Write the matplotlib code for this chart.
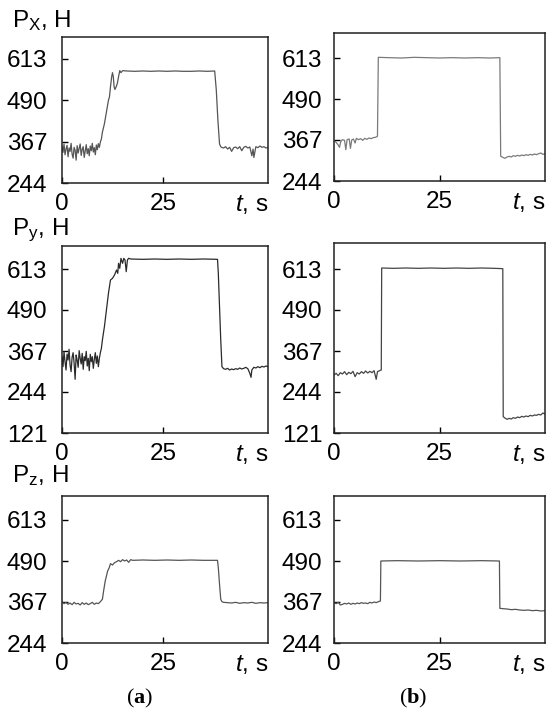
import matplotlib
matplotlib.use("Agg")
import matplotlib.pyplot as plt
import numpy as np

plt.rcParams['font.family'] = ['Liberation Sans', 'DejaVu Sans']
plt.rcParams['mathtext.fontset'] = 'custom'
plt.rcParams['mathtext.rm'] = 'Liberation Sans'
plt.rcParams['mathtext.it'] = 'Liberation Sans:italic'
plt.rcParams['mathtext.bf'] = 'Liberation Serif:bold'

# ---------------- data ----------------
# Px (a)
px_a_t = ([i * 0.25 for i in range(39)] +
          [9.75, 10.0, 10.5, 11.0, 11.5, 11.75, 12.0, 12.3, 12.5, 12.7, 12.9, 13.1, 13.4, 13.7, 14.0, 14.3, 14.6, 15.0,
           16, 18, 20, 22, 24, 26, 28, 30, 32, 34, 36, 37.8, 38.2, 38.6, 39.0, 39.3,
           39.5, 40, 40.5, 41, 41.5, 42, 42.5, 43, 43.5, 44, 44.5, 45, 45.5, 46, 46.5, 47, 47.3, 47.5, 48, 48.5, 49, 49.5, 50, 50.5, 51])
px_a_v = [352, 335, 360, 328, 345, 356, 322, 348, 338, 362, 330, 318, 350, 341, 312, 355, 333, 347, 360, 326,
          344, 352, 320, 339, 358, 331, 346, 325, 354, 340, 362, 336, 349, 328, 357, 343, 361, 350, 366,
          375, 395, 420, 455, 490, 500, 530, 560, 572, 560, 530, 522, 530, 540, 560, 578, 572, 578,
          577, 576, 577, 576, 577, 576, 577, 576, 576, 577, 576, 577, 520, 430, 360, 352,
          350, 348, 352, 345, 350, 338, 349, 351, 346, 352, 340, 350, 353, 348, 351, 325, 345, 320, 352, 349, 354, 350, 352, 348, 350]

# Px (b)
px_b_t = [0, 0.5, 1.0, 1.3, 1.6, 2.0, 2.5, 2.8, 3.1, 3.6, 3.9, 4.2, 4.6, 5.0, 5.3, 5.8, 6.3, 6.8, 7.3, 7.8, 8.3, 8.8, 9.3, 9.8, 10.3,
          10.5, 13, 16, 19, 22, 25, 28, 31, 34, 37, 39.3,
          39.5, 40, 40.5, 41, 41.5, 42, 42.5, 43, 43.5, 44, 44.5, 45, 45.5, 46, 46.5, 47, 47.5, 48, 48.5, 49, 49.5, 50]
px_b_v = [365, 360, 352, 345, 362, 368, 366, 338, 368, 370, 342, 367, 370, 358, 372, 368, 371, 366, 372, 369, 373, 371, 374, 375, 378,
          615, 614, 613, 615, 614, 613, 614, 613, 614, 613, 614,
          318, 315, 312, 316, 318, 316, 320, 318, 321, 319, 322, 320, 323, 321, 324, 322, 325, 323, 326, 328, 324, 326]

# Py (a)
py_a_t = ([i * 0.25 for i in range(39)] +
          [9.75, 10.0, 10.5, 11.0, 11.5, 12.0, 12.5, 13.0, 13.5, 13.8, 14.0, 14.3, 14.6, 15.0, 15.3, 15.6, 15.9, 16.2, 16.5, 17,
           20, 23, 26, 29, 32, 35, 38.5, 38.7, 39.0, 39.3, 39.6, 40,
           40.5, 41, 41.5, 42, 42.5, 43, 43.5, 44, 44.5, 45, 45.5, 46, 46.5, 46.8, 47, 47.5, 48, 48.5, 49, 49.5, 50, 50.5, 51])
py_a_v = [350, 320, 365, 335, 310, 358, 340, 372, 325, 305, 348, 362, 330, 282, 355, 340, 318, 368, 345, 328,
          360, 312, 350, 338, 366, 322, 345, 308, 357, 335, 350, 315, 342, 362, 330, 352, 320, 345, 362,
          375, 400, 440, 490, 540, 580, 585, 595, 610, 600, 630, 615, 645, 630, 645, 640, 605, 640, 645, 643,
          642, 643, 642, 643, 642, 643, 642, 600, 500, 400, 320, 314,
          312, 315, 310, 313, 311, 314, 312, 316, 313, 315, 318, 314, 300, 288, 310, 318, 316, 320, 317, 321, 319, 322, 320]

# Py (b)
py_b_t = [0, 0.5, 1, 1.5, 2, 2.5, 3, 3.5, 4, 4.5, 5, 5.5, 6, 6.5, 7, 7.5, 8, 8.5, 9, 9.5, 10, 10.3, 10.8, 11.2,
          11.3, 14, 17, 20, 23, 26, 29, 32, 35, 38, 40.0,
          40.1, 40.5, 41, 41.5, 42, 42.5, 43, 43.5, 44, 44.5, 45, 45.5, 46, 46.5, 47, 47.5, 48, 48.5, 49, 49.5, 50]
py_b_v = [295, 300, 293, 302, 298, 305, 296, 303, 299, 306, 290, 302, 298, 305, 300, 307, 301, 306, 302, 308, 282, 305, 308, 310,
          616, 615, 616, 615, 616, 615, 616, 615, 616, 615, 614,
          170, 166, 162, 165, 163, 167, 165, 169, 167, 171, 169, 172, 170, 174, 172, 175, 174, 177, 175, 181, 178]

# Pz (a)
pz_a_t = ([i * 0.5 for i in range(20)] +
          [10, 10.3, 10.7, 11, 11.3, 11.7, 12, 12.5, 13, 13.5, 14, 14.5, 15, 15.5, 16, 16.5, 17, 17.5,
           20, 23, 26, 29, 32, 35, 38.5, 38.7, 39.0, 39.3, 39.6,
           40, 41, 42, 43, 44, 45, 46, 47, 48, 49, 50, 51])
pz_a_v = [368, 362, 366, 360, 364, 359, 366, 361, 363, 358, 365, 360, 364, 359, 362, 366, 360, 364, 362, 368,
          375, 400, 430, 445, 460, 470, 482, 478, 485, 488, 492, 488, 494, 490, 493, 486, 494, 492,
          493, 492, 493, 492, 493, 492, 492, 470, 420, 375, 368,
          366, 365, 364, 366, 363, 365, 364, 366, 363, 365, 364, 365]

# Pz (b)
pz_b_t = [0, 0.5, 1, 1.5, 2, 2.5, 3, 3.5, 4, 4.5, 5, 5.5, 6, 6.5, 7, 7.5, 8, 8.5, 9, 9.5, 10, 10.5, 11.0,
          11.1, 15, 20, 25, 30, 35, 39.2,
          39.3, 40, 41, 42, 43, 44, 45, 46, 47, 48, 49, 50]
pz_b_v = [365, 362, 366, 358, 360, 363, 361, 364, 360, 363, 361, 364, 362, 365, 363, 364, 362, 366, 364, 367, 365, 368, 370,
          490, 491, 490, 491, 490, 491, 490,
          348, 347, 346, 344, 345, 343, 342, 343, 341, 342, 340, 341]

y_ticks_main = [244, 367, 490, 613]
y_ticks_mid = [121, 244, 367, 490, 613]
x_ticks = [0, 25]
y_labels = [r'P$_\mathrm{X}$, H', r'P$_\mathrm{y}$, H', r'P$_\mathrm{z}$, H']
panel_labels = [r'($\mathbf{a}$)', r'($\mathbf{b}$)']

# ---------------- layout ----------------
W, H = 550, 711
fig = plt.figure(figsize=(W / 100, H / 100), dpi=100)

def box(x0, x1, y0, y1):
    return [x0 / W, 1 - y1 / H, (x1 - x0) / W, (y1 - y0) / H]

panels = [
    (box(62, 268, 37, 183), px_a_t, px_a_v, (244, 678), (0, 51), y_ticks_main, '#555555'),
    (box(334, 545, 33, 181), px_b_t, px_b_v, (244, 688), (0, 50), y_ticks_main, '#7a7a7a'),
    (box(62, 268, 246, 433), py_a_t, py_a_v, (121, 682), (0, 51), y_ticks_mid, '#2a2a2a'),
    (box(334, 545, 243, 433), py_b_t, py_b_v, (121, 691), (0, 50), y_ticks_mid, '#444444'),
    (box(62, 268, 496, 643), pz_a_t, pz_a_v, (244, 685), (0, 51), y_ticks_main, '#555555'),
    (box(334, 545, 496, 643), pz_b_t, pz_b_v, (244, 685), (0, 50), y_ticks_main, '#555555'),
]

FS = 17.5
for i, (rect, t, v, ylim, xlim, yt, col) in enumerate(panels):
    ax = fig.add_axes(rect)
    ax.plot(t, v, color=col, lw=0.9)
    ax.set_xlim(*xlim)
    ax.set_ylim(*ylim)
    ax.set_yticks(yt)
    ax.set_xticks(x_ticks)
    ax.tick_params(direction='in', length=4, width=1, labelsize=FS, colors='black')
    ax.tick_params(axis='y', pad=10.5 if i % 2 == 0 else 8.5)
    ax.tick_params(axis='x', pad=7.5)
    for s in ax.spines.values():
        s.set_linewidth(1.1)
        s.set_color('#222222')
    ax.annotate(r'$t$, s', xy=(1, 0), xycoords='axes fraction',
                xytext=(0, -7.5), textcoords='offset points',
                ha='right', va='top', fontsize=FS)

# y-labels
for lbl, yb in zip(y_labels, [27, 235, 482]):
    fig.text(12 / W, 1 - yb / H, lbl, fontsize=FS, ha='left', va='baseline')

# panel letters
for lbl, xc in zip(panel_labels, [140, 413]):
    fig.text(xc / W, 1 - 698 / H, lbl, fontsize=16, ha='center', va='center',
             family='Liberation Serif')

fig.savefig('out.png', dpi=100)
